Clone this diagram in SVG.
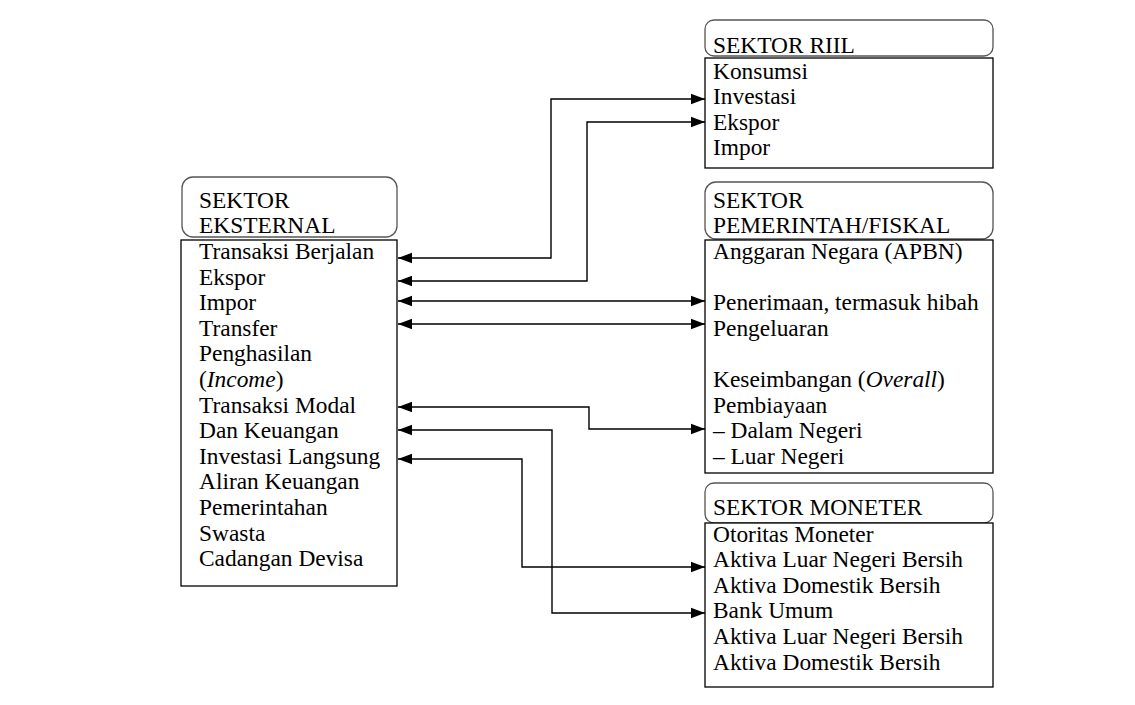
<svg xmlns="http://www.w3.org/2000/svg" width="1135" height="705" viewBox="0 0 1135 705" font-family="Times, Tinos, serif">
<style>
text{font-size:23.4px;fill:#000}
.hdr{fill:#fff;stroke:#555;stroke-width:1.3}
.body{fill:#fff;stroke:#000;stroke-width:1.3}
.con{fill:none;stroke:#000;stroke-width:1.4}
</style>
<defs>
<marker id="ah" markerUnits="userSpaceOnUse" markerWidth="14" markerHeight="12" refX="12" refY="5" orient="auto-start-reverse" viewBox="0 0 12 10">
<path d="M0,0.5 L12,5 L0,9.5 Z" fill="#000"/>
</marker>
</defs>
<rect width="1135" height="705" fill="#fff"/>
<g id="eksternal">
<rect class="hdr" x="182" y="177" width="215" height="60" rx="11"/>
<text x="199" y="208">SEKTOR</text>
<text x="199" y="233">EKSTERNAL</text>
<rect class="body" x="181" y="240" width="216" height="346"/>
<text x="199" y="259">Transaksi Berjalan</text>
<text x="199" y="284.6">Ekspor</text>
<text x="199" y="310.2">Impor</text>
<text x="199" y="335.8">Transfer</text>
<text x="199" y="361.4">Penghasilan</text>
<text x="199" y="387">(<tspan font-style="italic">Income</tspan>)</text>
<text x="199" y="412.6">Transaksi Modal</text>
<text x="199" y="438.2">Dan Keuangan</text>
<text x="199" y="463.8">Investasi Langsung</text>
<text x="199" y="489.4">Aliran Keuangan</text>
<text x="199" y="515">Pemerintahan</text>
<text x="199" y="540.6">Swasta</text>
<text x="199" y="566.2">Cadangan Devisa</text>
</g>
<g id="riil">
<rect class="hdr" x="705" y="20" width="288" height="36" rx="9"/>
<text x="713" y="53">SEKTOR RIIL</text>
<rect class="body" x="705" y="58" width="288" height="110"/>
<text x="713" y="78.5">Konsumsi</text>
<text x="713" y="104.1">Investasi</text>
<text x="713" y="129.7">Ekspor</text>
<text x="713" y="155.3">Impor</text>
</g>
<g id="fiskal">
<rect class="hdr" x="705" y="182" width="288" height="57" rx="11"/>
<text x="713" y="208">SEKTOR</text>
<text x="713" y="233">PEMERINTAH/FISKAL</text>
<rect class="body" x="705" y="240" width="288" height="233"/>
<text x="713" y="259">Anggaran Negara (APBN)</text>
<text x="713" y="310.2">Penerimaan, termasuk hibah</text>
<text x="713" y="335.8">Pengeluaran</text>
<text x="713" y="387">Keseimbangan (<tspan font-style="italic">Overall</tspan>)</text>
<text x="713" y="412.6">Pembiayaan</text>
<text x="713" y="438.2">– Dalam Negeri</text>
<text x="713" y="463.8">– Luar Negeri</text>
</g>
<g id="moneter">
<rect class="hdr" x="705" y="483" width="288" height="40" rx="9"/>
<text x="713" y="515">SEKTOR MONETER</text>
<rect class="body" x="705" y="523" width="288" height="164"/>
<text x="713" y="541.5">Otoritas Moneter</text>
<text x="713" y="567.1">Aktiva Luar Negeri Bersih</text>
<text x="713" y="592.7">Aktiva Domestik Bersih</text>
<text x="713" y="618.3">Bank Umum</text>
<text x="713" y="643.9">Aktiva Luar Negeri Bersih</text>
<text x="713" y="669.5">Aktiva Domestik Bersih</text>
</g>
<g id="connectors">
<path class="con" d="M398 258 H551 V99 H705" marker-start="url(#ah)" marker-end="url(#ah)"/>
<path class="con" d="M398 281 H587 V122 H705" marker-start="url(#ah)" marker-end="url(#ah)"/>
<path class="con" d="M398 301 H705" marker-start="url(#ah)" marker-end="url(#ah)"/>
<path class="con" d="M398 324 H705" marker-start="url(#ah)" marker-end="url(#ah)"/>
<path class="con" d="M398 407 H589 V429 H705" marker-start="url(#ah)" marker-end="url(#ah)"/>
<path class="con" d="M398 430 H552 V613 H705" marker-start="url(#ah)" marker-end="url(#ah)"/>
<path class="con" d="M398 459 H522 V567 H705" marker-start="url(#ah)" marker-end="url(#ah)"/>
</g>
</svg>
